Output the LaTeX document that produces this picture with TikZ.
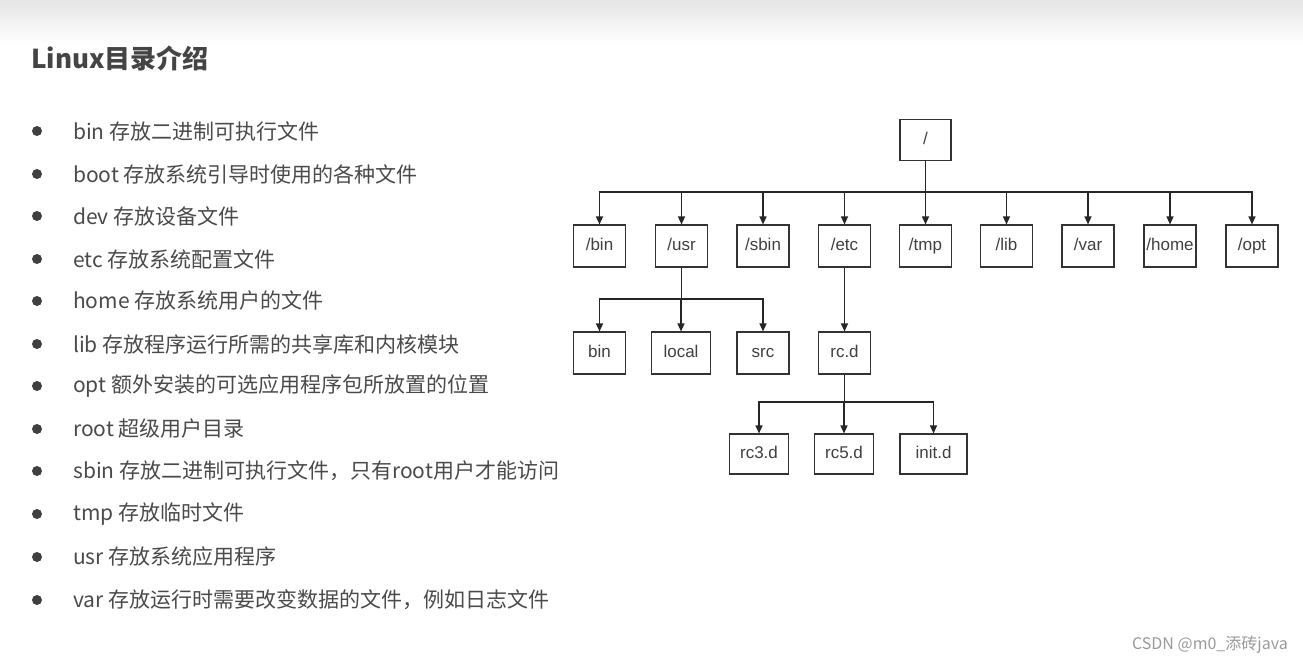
\documentclass[tikz,border=0pt]{standalone}
\usepackage{fontspec}
\setmainfont{Liberation Sans}
\newfontfamily\cjk{Noto Sans CJK SC}
\usetikzlibrary{arrows.meta}
\definecolor{txt}{HTML}{4A4A4A}
\definecolor{ttl}{HTML}{444444}
\definecolor{boxline}{HTML}{333333}
\definecolor{wm}{HTML}{9A9A9A}
\tikzset{
  dirbox/.style={draw=boxline, line width=1.1pt, minimum width=52pt, minimum height=42pt, inner sep=0pt, font=\fontsize{17}{19}\selectfont, text=black!75, text height=12pt, text depth=3pt},
  widebox/.style={dirbox, minimum width=59pt},
  conn/.style={draw=black!85, line width=1.2pt},
  arr/.style={conn, -{Triangle[length=8pt,width=7pt]}},
  bullet/.style={circle, fill=black!75, inner sep=0pt, minimum size=10pt},
  item/.style={anchor=west, inner sep=0pt, text=txt, font=\cjk\fontsize{21}{25}\selectfont},
}
\begin{document}
\begin{tikzpicture}[x=1pt,y=-1pt]
\useasboundingbox (0,0) rectangle (1303,669);
\fill[white] (0,0) rectangle (1303,669);
\shade[top color=black!10, bottom color=white] (0,0) rectangle (1303,45);
% title
\node[anchor=west, inner sep=0pt, text=ttl, font=\cjk\bfseries\fontsize{26}{30}\selectfont] (title) at (31,58) {Linux目录介绍};
% bullets
\foreach \y/\t [count=\i] in {
 131/{bin 存放二进制可执行文件},
 174/{boot 存放系统引导时使用的各种文件},
 216/{dev 存放设备文件},
 259/{etc 存放系统配置文件},
 301/{home 存放系统用户的文件},
 344/{lib 存放程序运行所需的共享库和内核模块},
 386/{opt 额外安装的可选应用程序包所放置的位置},
 429/{root 超级用户目录},
 471/{sbin 存放二进制可执行文件，只有root用户才能访问},
 514/{tmp 存放临时文件},
 557/{usr 存放系统应用程序},
 600/{var 存放运行时需要改变数据的文件，例如日志文件}}{
  \node[bullet] (b\i) at (37,\y) {};
  \node[item] (t\i) at (73,\y) {\t};
}
% tree
\node[dirbox, minimum width=51pt, minimum height=41pt] (root) at (925.5,140) {/};
\node[dirbox] (bin) at (599.5,246) {/bin};
\node[dirbox] (usr) at (681.5,246) {/usr};
\node[dirbox] (sbin) at (763,246) {/sbin};
\node[dirbox] (etc) at (844.5,246) {/etc};
\node[dirbox] (tmp) at (925.5,246) {/tmp};
\node[dirbox] (lib) at (1006.5,246) {/lib};
\node[dirbox] (var) at (1088,246) {/var};
\node[dirbox] (home) at (1170,246) {/home};
\node[dirbox] (opt) at (1252,246) {/opt};
\node[dirbox] (ubin) at (599.5,353) {bin};
\node[widebox] (local) at (681,353) {local};
\node[dirbox] (src) at (763,353) {src};
\node[dirbox] (rcd) at (844.5,353) {rc.d};
\node[widebox, minimum height=40pt] (rc3) at (759,454) {rc3.d};
\node[widebox, minimum height=40pt] (rc5) at (844,454) {rc5.d};
\node[dirbox, minimum width=67pt, minimum height=40pt] (init) at (933.5,454) {init.d};
\coordinate (bus) at (925.5,192);
\draw[conn] (root.south) -- (bus);
\foreach \c in {bin,usr,sbin,etc,tmp,lib,var,home,opt}{
  \draw[arr] (bus) -| (\c.north);
}
\coordinate (ubus) at (681.5,299);
\draw[conn] (usr.south) -- (ubus);
\foreach \c in {ubin,local,src}{
  \draw[arr] (ubus) -| (\c.north);
}
\draw[arr] (etc.south) -- (rcd.north);
\coordinate (rbus) at (844.5,402);
\draw[conn] (rcd.south) -- (rbus);
\foreach \c in {rc3,rc5,init}{
  \draw[arr] (rbus) -| (\c.north);
}
% watermark
\node[anchor=east, inner sep=0pt, text=wm, font=\cjk\fontsize{16}{18}\selectfont] (wmark) at (1288,645) {CSDN @m0\_添砖java};
\end{tikzpicture}
\end{document}
